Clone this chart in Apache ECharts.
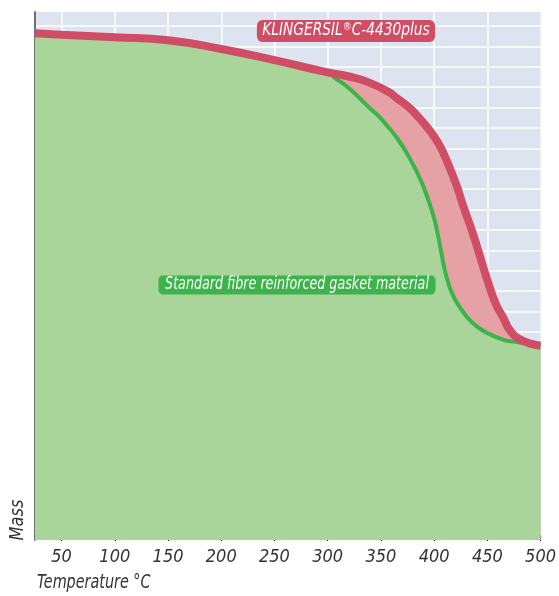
<!DOCTYPE html>
<html>
<head>
<meta charset="utf-8">
<script src="https://cdn.jsdelivr.net/npm/echarts@6/dist/echarts.min.js"></script>
<style>
html,body{margin:0;padding:0;background:#fff;}
#chart{width:559px;height:596px;}
</style>
</head>
<body>
<div id="chart"></div>
<script>
// Temperature (°C) and relative mass readings (arbitrary mass units)
var redTemps = [25, 50, 100, 150, 200, 250, 300, 320, 338, 357, 366, 376, 385, 394, 404, 411, 421, 428, 436, 443, 450, 458, 465, 471, 480, 500];
var redMass  = [98.6, 98.3, 97.8, 97.2, 95.5, 93.3, 90.9, 90.1, 89.0, 87.1, 85.7, 84.1, 82.2, 80.0, 77.0, 74.0, 68.8, 64.3, 59.6, 54.9, 50.2, 45.5, 42.8, 40.4, 38.6, 37.3];

var greenTemps = [25, 50, 100, 150, 200, 250, 300, 307, 320, 338, 352, 366, 378, 388, 394, 400, 404, 407, 410, 416, 424, 436, 450, 466, 479, 500];
var greenMass  = [98.6, 98.3, 97.8, 97.2, 95.5, 93.3, 90.9, 89.8, 87.8, 84.2, 81.4, 77.8, 73.7, 69.5, 66.2, 62.3, 58.6, 55.3, 52.2, 48.0, 44.9, 41.8, 39.8, 38.4, 38.0, 37.3];

var xTicks = { min: 25, max: 500, step: 50 };
var redLabel = 'KLINGERSIL';
var redLabelSuffix = 'C-4430plus';
var greenLabel = 'Standard fibre reinforced gasket material';
var xTitle = 'Temperature °C';
var yTitle = 'Mass';

function pairs(xs, ys) { return xs.map(function (x, i) { return [x, ys[i]]; }); }

var FONT = '"Liberation Sans Narrow", "DejaVu Sans Condensed", "Liberation Sans", sans-serif';
var RED = '#d04d66', PINK = '#e5a1a3', GREEN_LINE = '#3cb44b', GREEN_FILL = '#a9d59a', BG = '#dde4ef';
var SMOOTH = 0.5;

var chart = echarts.init(document.getElementById('chart'), null, { renderer: 'canvas' });
chart.setOption({
  animation: false,
  grid: { left: 35, right: 16, top: 12, bottom: 56, show: true, backgroundColor: BG, borderWidth: 0 },
  xAxis: {
    type: 'value', min: xTicks.min, max: xTicks.max, minInterval: xTicks.step, maxInterval: xTicks.step,
    axisLine: { show: true, lineStyle: { color: '#333', width: 1.5 } },
    axisTick: { show: true, length: 5, lineStyle: { color: '#333', width: 1.2 } },
    axisLabel: { showMinLabel: false, color: '#333', fontFamily: FONT, fontStyle: 'italic', fontSize: 18, margin: 8 },
    splitLine: { show: true, showMinLine: false, showMaxLine: false, lineStyle: { color: '#ffffff', width: 1.5 } }
  },
  yAxis: {
    type: 'value', min: -0.784, max: 102.75, minInterval: 4, maxInterval: 4,
    axisLine: { show: true, lineStyle: { color: '#707070', width: 2 } },
    axisTick: { show: false },
    axisLabel: { show: false },
    splitLine: { show: true, showMinLine: false, showMaxLine: false, lineStyle: { color: '#ffffff', width: 1.5 } }
  },
  series: [
    { type: 'line', data: pairs(redTemps, redMass), smooth: SMOOTH, symbol: 'none', silent: true, z: 2,
      lineStyle: { width: 0, color: PINK }, areaStyle: { color: PINK, opacity: 1, origin: 'start' } },
    { type: 'line', data: pairs(greenTemps, greenMass), smooth: SMOOTH, symbol: 'none', silent: true, z: 3,
      lineStyle: { width: 4, color: GREEN_LINE }, areaStyle: { color: GREEN_FILL, opacity: 1, origin: 'start' } },
    { type: 'line', data: pairs(redTemps, redMass), smooth: SMOOTH, symbol: 'none', silent: true, z: 4,
      lineStyle: { width: 8, color: RED } }
  ],
  graphic: [
    { type: 'text', x: 346, y: 31, z: 10, scaleX: 0.9, silent: true,
      style: { text: '{a|' + redLabel + '}{s|®}{a|' + redLabelSuffix + '}', align: 'center', verticalAlign: 'middle',
        backgroundColor: RED, padding: [2, 6, 2, 6], borderRadius: 6,
        rich: {
          a: { fontFamily: FONT, fontStyle: 'italic', fontSize: 17, fill: '#fff', color: '#fff', lineHeight: 18 },
          s: { fontFamily: FONT, fontStyle: 'italic', fontSize: 11, fill: '#fff', color: '#fff', lineHeight: 18, verticalAlign: 'top' }
        } } },
    { type: 'text', x: 297, y: 285, z: 10, scaleX: 0.83, silent: true,
      style: { text: greenLabel, align: 'center', verticalAlign: 'middle', fill: '#fff',
        font: 'italic 17px ' + FONT, backgroundColor: GREEN_LINE, padding: [1, 8, 1, 8], borderRadius: 5 } },
    { type: 'text', x: 37, y: 583, scaleX: 0.84, silent: true,
      style: { text: xTitle, align: 'left', verticalAlign: 'middle', fill: '#333', font: 'italic 19px ' + FONT } },
    { type: 'text', x: 18, y: 520, rotation: Math.PI / 2, scaleX: 0.9, silent: true,
      style: { text: yTitle, align: 'center', verticalAlign: 'middle', fill: '#333', font: 'italic 20px ' + FONT } }
  ]
});
</script>
</body>
</html>
